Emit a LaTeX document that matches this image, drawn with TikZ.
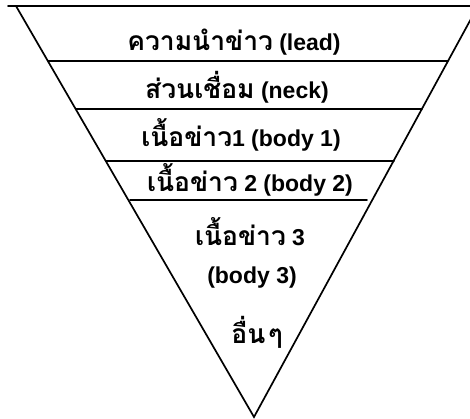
\documentclass[tikz,border=0pt]{standalone}
\usepackage{fontspec}
\setmainfont{Liberation Sans}
\newfontfamily\thai[Script=Thai,Scale=1.15]{Loma}
\tikzset{
  edge/.style={line width=1.7pt, line cap=round},
  lbl/.style={inner sep=0pt, font=\fontsize{23}{27}\selectfont\bfseries}
}
\begin{document}
\begin{tikzpicture}[x=1pt,y=-1pt]
\useasboundingbox (0,0) rectangle (470,419);
\begin{scope}
\clip (0,0) rectangle (470,419);
\coordinate (apex) at (254,417);
\coordinate (tl) at (16,6);
\coordinate (tr) at (478,6);
\draw[edge] (tl) -- (apex) -- (tr);
\draw[edge] (8,6) -- (470,6);
\draw[edge] (48,61) -- (448,61);
\draw[edge] (76,109) -- (422,109);
\draw[edge] (106,161) -- (394,161);
\draw[edge] (130,200) -- (367,200);
\end{scope}
\node[lbl] (lead) at (234,42) {{\thai ความนำข่าว} (lead)};
\node[lbl] (neck) at (237,87) {{\thai ส่วนเชื่อม} (neck)};
\node[lbl] (body1) at (241,135) {{\thai เนื้อข่าว}1 (body 1)};
\node[lbl] (body2) at (250,180) {{\thai เนื้อข่าว} 2 (body 2)};
\node[lbl] (body3a) at (250,232) {{\thai เนื้อข่าว} 3};
\node[lbl] (body3b) at (252,278) {(body 3)};
\node[lbl] (other) at (257,332) {{\thai อื่น\hspace{3pt}ๆ}};
\end{tikzpicture}
\end{document}
